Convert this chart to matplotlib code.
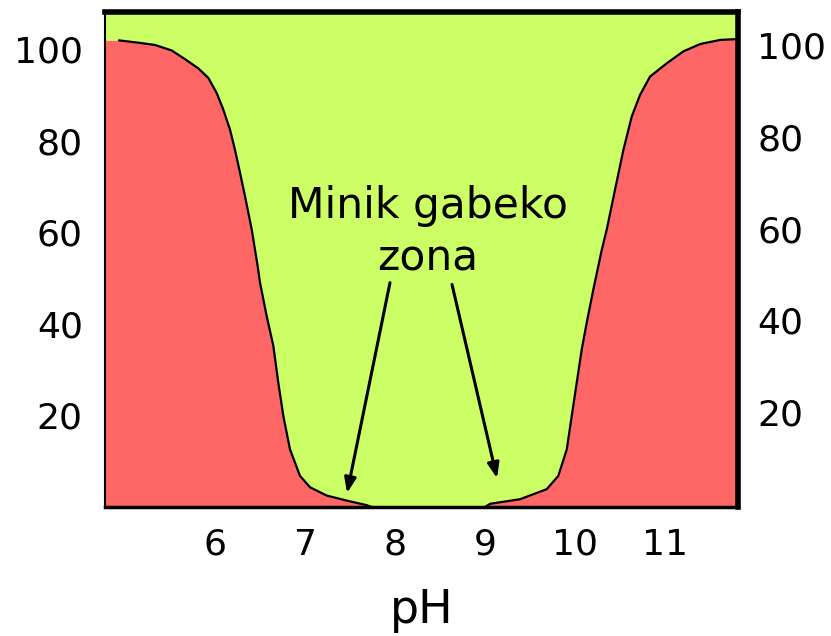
import matplotlib
matplotlib.use("Agg")
import matplotlib.pyplot as plt
import numpy as np

# Curve data (pH vs %)
ph_left = [4.78, 4.933, 5.148, 5.333, 5.519, 5.667, 5.814, 5.926, 6.019, 6.092, 6.167,
           6.222, 6.278, 6.333, 6.408, 6.474, 6.5, 6.574, 6.648, 6.703, 6.759, 6.833,
           6.944, 7.056, 7.241, 7.463, 7.685, 7.74]
pct_left = [101.9, 101.9, 101.4, 100.9, 99.7, 97.8, 95.8, 93.7, 90.4, 86.8, 82.4,
            78.0, 73.0, 67.9, 60.6, 52.6, 49.0, 41.7, 35.2, 27.2, 19.9, 12.6,
            6.8, 4.3, 2.5, 1.4, 0.4, 0.0]
ph_right = [9.0, 9.056, 9.389, 9.686, 9.814, 9.908, 9.963, 10.019, 10.074, 10.13, 10.203,
            10.297, 10.352, 10.444, 10.537, 10.63, 10.722, 10.833, 11.019, 11.203, 11.389,
            11.611, 11.81]
pct_right = [0.0, 0.7, 1.7, 3.9, 6.8, 12.6, 19.9, 27.2, 34.4, 40.3, 47.5,
             56.2, 60.6, 69.3, 78.0, 85.3, 90.0, 94.0, 96.9, 99.5, 101.1,
             102.0, 102.2]

x_ticks = [6, 7, 8, 9, 10, 11]
y_ticks = [20, 40, 60, 80, 100]
label_text = "Minik gabeko\nzona"
xlabel = "pH"

GREEN = "#CCFF66"
RED = "#FF6666"

fig = plt.figure(figsize=(8.31, 6.36), dpi=100)
ax = fig.add_axes([105/831, 1-507/636, (738-105)/831, (507-12)/636])
ax.set_facecolor(GREEN)

x = np.array(ph_left + ph_right)
y = np.array(pct_left + pct_right)
ax.fill_between(x, 0, y, color=RED, lw=0, zorder=1)
ax.plot(ph_left[1:], pct_left[1:], color="black", lw=1.6, zorder=2,
        solid_joinstyle="round", solid_capstyle="round")
ax.plot(ph_right, pct_right, color="black", lw=1.6, zorder=2,
        solid_joinstyle="round", solid_capstyle="round")

ax.set_xlim(4.778, 11.81)
ax.set_ylim(0, 108.1)
ax.set_xticks(x_ticks)
ax.set_xticklabels([str(t) for t in x_ticks])
ax.set_yticks(y_ticks)
ax.set_yticklabels([str(t) for t in y_ticks])
ax.tick_params(axis="both", length=0, labelsize=26)
ax.tick_params(axis="x", pad=15)
ax.tick_params(axis="y", pad=16)
ax.set_xlabel(xlabel, fontsize=33, labelpad=19)

ax.spines["left"].set_linewidth(1.5)
ax.spines["bottom"].set_linewidth(2.5)
ax.spines["top"].set_linewidth(4)
ax.spines["right"].set_linewidth(4)

ax2 = ax.twinx()
ax2.set_ylim(-0.7, 107.2)
ax2.set_yticks(y_ticks)
ax2.set_yticklabels([str(t) for t in y_ticks])
ax2.tick_params(axis="y", length=0, labelsize=26, pad=14)
for s in ax2.spines.values():
    s.set_visible(False)

ax.text(8.367, 60.0, label_text, ha="center", va="center", fontsize=30.5,
        linespacing=1.3, zorder=5)

arrow_starts = [(7.944, 49.0), (8.633, 48.6)]
arrow_tips = [(7.467, 3.05), (9.133, 6.3)]
for s, t in zip(arrow_starts, arrow_tips):
    ax.annotate("", xy=t, xytext=s,
                arrowprops=dict(arrowstyle="-|>,head_length=0.9,head_width=0.35",
                                color="black", lw=2.2, shrinkA=0, shrinkB=0),
                zorder=5)

fig.savefig("out.png", dpi=100)
